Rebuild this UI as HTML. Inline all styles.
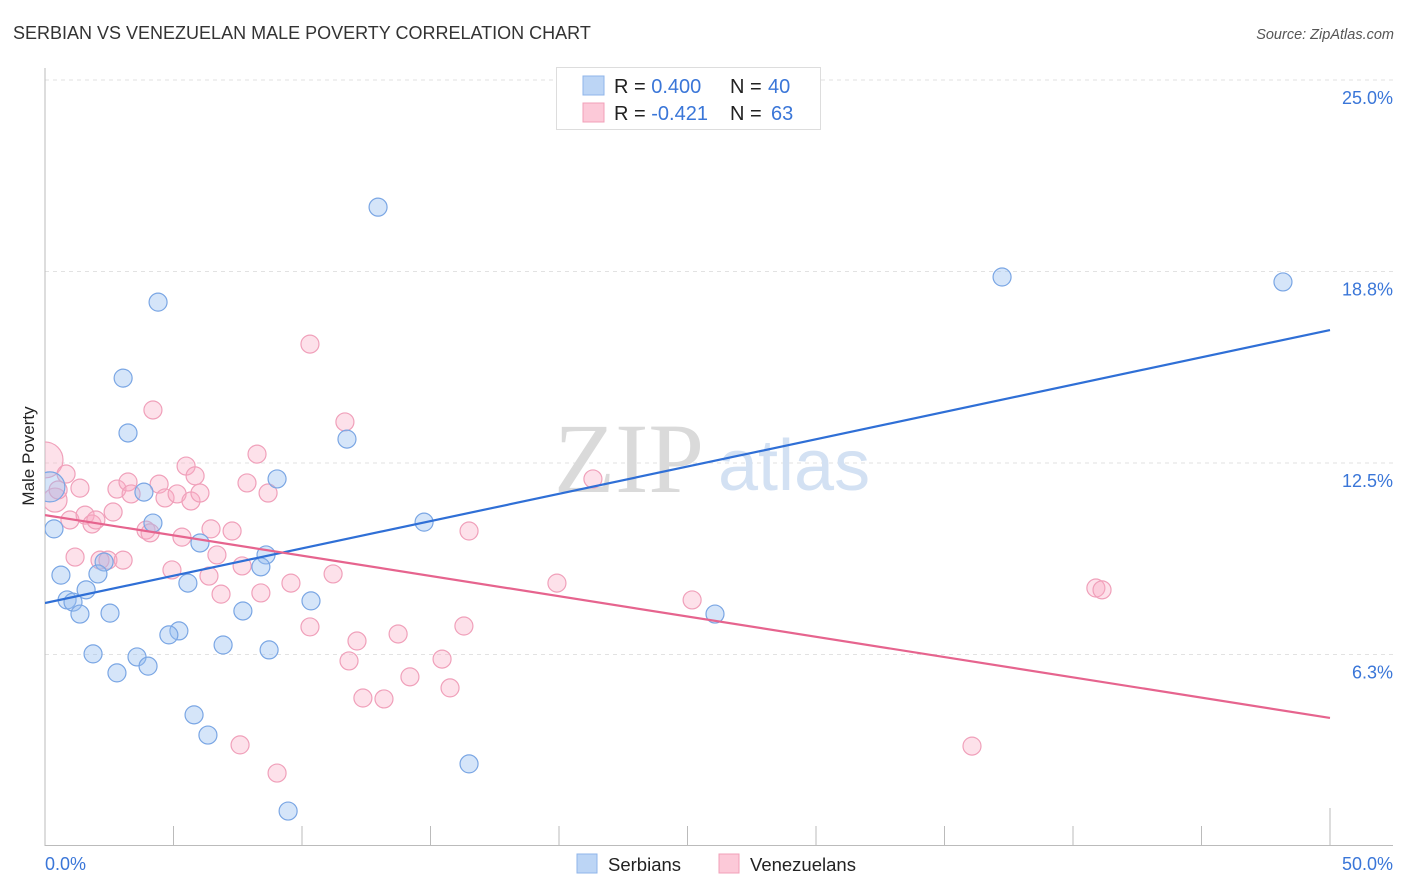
<!DOCTYPE html>
<html><head><meta charset="utf-8">
<style>
body{margin:0;background:#fff;font-family:"Liberation Sans",sans-serif;}
svg{display:block}
</style></head>
<body>
<svg id="chart" width="1406" height="892" xmlns="http://www.w3.org/2000/svg">
<defs><clipPath id="plotclip"><rect x="45" y="60" width="1360" height="786"/></clipPath></defs>
<text x="13" y="39" font-size="18" fill="#333">SERBIAN VS VENEZUELAN MALE POVERTY CORRELATION CHART</text>
<text x="1394" y="39" font-size="14.5" fill="#555" font-style="italic" text-anchor="end">Source: ZipAtlas.com</text>
<g id="grid"></g>
<text x="554" y="492" font-size="100" fill="#dadada" font-family="Liberation Serif,serif">ZIP</text>
<text x="718" y="490" font-size="72" fill="#d3e1f3">atlas</text>
<g id="marks" clip-path="url(#plotclip)"></g>
<text transform="translate(34,456) rotate(-90)" font-size="17" fill="#222" text-anchor="middle">Male Poverty</text>
<g>
<rect x="556.5" y="67.5" width="264" height="62" fill="#fff" stroke="#ddd"/>
<rect x="583" y="76" width="21" height="19" fill="#bcd5f5" stroke="#8fb5ea"/>
<rect x="583" y="103" width="21" height="19" fill="#fcc9d8" stroke="#f2a0b8"/>
<text x="614" y="93" font-size="20" fill="#222">R = <tspan fill="#3a76d8">0.400</tspan><tspan x="730">N = </tspan><tspan fill="#3a76d8" x="768">40</tspan></text>
<text x="614" y="120" font-size="20" fill="#222">R = <tspan fill="#3a76d8">-0.421</tspan><tspan x="730">N = </tspan><tspan fill="#3a76d8" x="771">63</tspan></text>
</g>
<g>
<rect x="577" y="854" width="20" height="19" fill="#bcd5f5" stroke="#8fb5ea"/>
<text x="608" y="871" font-size="18.5" fill="#222">Serbians</text>
<rect x="719" y="854" width="20" height="19" fill="#fcc9d8" stroke="#f2a0b8"/>
<text x="750" y="871" font-size="18.5" fill="#222">Venezuelans</text>
</g>
</svg>
<script>
const yTicks=[25,18.75,12.5,6.25];
const yTickLabels=["25.0%","18.8%","12.5%","6.3%"];
const xTicks=[0,5,10,15,20,25,30,35,40,45,50];
const xLabels=["0.0%","50.0%"];
const serbX=[12.96,37.24,48.17,4.40,3.04,3.23,11.75,9.03,3.85,0.19,4.20,0.35,14.75,6.03,8.60,2.30,8.40,0.62,2.06,5.56,1.60,0.86,1.09,10.35,2.53,1.36,7.70,26.07,5.21,4.82,6.93,1.87,8.72,3.58,4.01,2.80,5.80,6.34,16.50,9.46];
const serbY=[20.85,18.57,18.41,17.75,15.27,13.48,13.28,11.98,11.55,11.72,10.54,10.35,10.57,9.89,9.50,9.27,9.11,8.84,8.88,8.58,8.36,8.03,7.96,8.00,7.60,7.57,7.67,7.57,7.02,6.89,6.56,6.27,6.40,6.17,5.87,5.65,4.28,3.62,2.68,1.14];
const venX=[0,0.39,0.82,0.51,1.36,0.97,1.17,1.56,1.83,1.98,2.14,2.45,2.65,2.80,3.04,3.23,3.35,3.93,4.09,4.20,4.44,4.67,4.94,5.14,5.33,5.49,5.68,5.84,6.03,6.38,6.46,6.69,6.85,7.28,7.59,7.67,7.86,8.25,8.40,8.68,9.03,9.57,10.31,10.31,11.21,11.67,11.83,12.14,12.37,13.19,13.74,14.20,15.45,15.76,16.30,16.50,19.92,21.32,25.18,36.07,40.89,41.13];
const venY=[12.60,11.29,12.14,11.62,11.68,10.64,9.43,10.80,10.51,10.64,9.33,9.33,10.90,11.65,9.33,11.88,11.49,10.31,10.22,14.23,11.81,11.36,9.01,11.49,10.08,12.40,11.26,12.08,11.52,8.81,10.35,9.50,8.22,10.28,3.30,9.14,11.85,12.79,8.26,11.52,2.38,8.58,16.38,7.15,8.88,13.84,6.04,6.69,4.83,4.80,6.92,5.52,6.10,5.16,7.18,10.28,8.58,11.98,8.03,3.26,8.42,8.36];
const serbTrend=[7.93,16.84];
const venTrend=[10.80,4.18];
const NS="http://www.w3.org/2000/svg";
const X=v=>45+v*25.7, Y=v=>846-v*30.64;
function mk(tag,attrs,parent){const e=document.createElementNS(NS,tag);for(const k in attrs)e.setAttribute(k,attrs[k]);parent.appendChild(e);return e;}
const grid=document.getElementById('grid'), marks=document.getElementById('marks');
yTicks.forEach((t,i)=>{
 const l=mk('line',{x1:45,x2:1393,y1:Y(t),y2:Y(t),stroke:'#e2e2e2','stroke-dasharray':'4,4'},grid);
 
 
 const tx=mk('text',{x:1393,y:Y(t)+24,'font-size':18,fill:'#3a76d8','text-anchor':'end'},grid);
 tx.textContent=yTickLabels[i];
 
 
});
const ya=mk('line',{x1:45,x2:45,y1:68,y2:846,stroke:'#bbb'},grid);


const xa=mk('line',{x1:45,x2:1393,y1:845.5,y2:845.5,stroke:'#bbb'},grid);


xTicks.forEach(t=>{
 const tl=mk('line',{x1:X(t),x2:X(t),y1:(t==50?808:826),y2:846,stroke:'#bbb'},grid);
 
 
});
const xl0=mk('text',{x:45,y:870,'font-size':18,fill:'#3a76d8'},grid);
xl0.textContent=xLabels[0];


const xl1=mk('text',{x:1393,y:870,'font-size':18,fill:'#3a76d8','text-anchor':'end'},grid);
xl1.textContent=xLabels[1];


venX.forEach((v,i)=>{
 const r=i==0?18:(i==1?12:9);
 const c=mk('circle',{cx:X(v),cy:Y(venY[i]),r:r,fill:'rgba(248,170,195,0.35)',stroke:'#f0a0ba','stroke-width':1.2},marks);
 
 
});
serbX.forEach((v,i)=>{
 const r=i==9?15:9;
 const c=mk('circle',{cx:X(v),cy:Y(serbY[i]),r:r,fill:'rgba(150,190,240,0.4)',stroke:'#7aa6e4','stroke-width':1.2},marks);
 
 
});
const bl=mk('line',{x1:X(0),x2:X(50),y1:Y(serbTrend[0]),y2:Y(serbTrend[1]),stroke:'#2f6fd6','stroke-width':2.2},marks);


const pl=mk('line',{x1:X(0),x2:X(50),y1:Y(venTrend[0]),y2:Y(venTrend[1]),stroke:'#e6648e','stroke-width':2.2},marks);


</script>
</body></html>
